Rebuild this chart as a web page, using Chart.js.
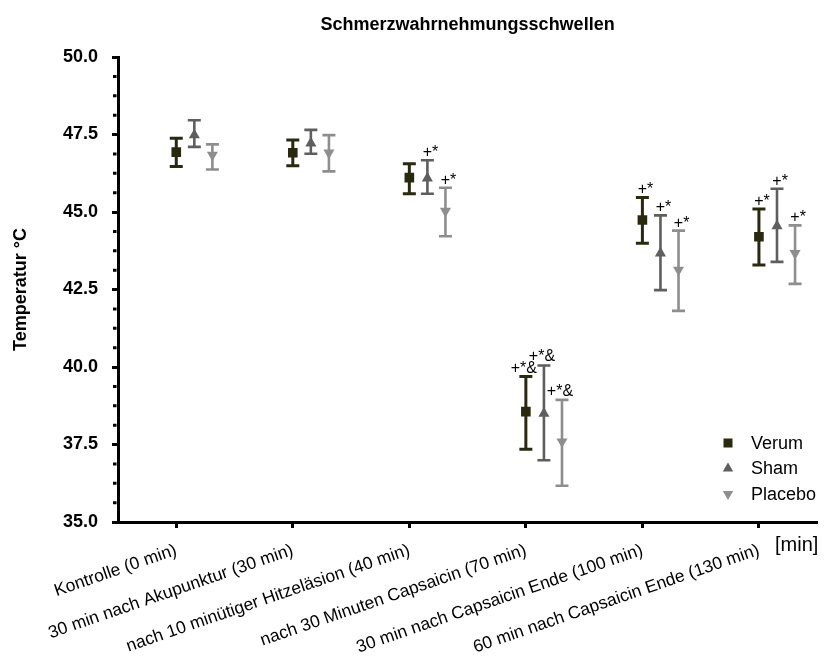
<!DOCTYPE html>
<html>
<head>
<meta charset="utf-8">
<script src="https://cdn.jsdelivr.net/npm/chart.js@4.4.0/dist/chart.umd.min.js"></script>
<style>
  html, body { margin: 0; padding: 0; background: #fff; }
  #wrap { width: 824px; height: 660px; }
</style>
</head>
<body>
<div id="wrap"><canvas id="chart"></canvas></div>
<script>
// --- data ---
const categories = [
  'Kontrolle (0 min)',
  '30 min nach Akupunktur (30 min)',
  'nach 10 minütiger Hitzeläsion (40 min)',
  'nach 30 Minuten Capsaicin (70 min)',
  '30 min nach Capsaicin Ende (100 min)',
  '60 min nach Capsaicin Ende (130 min)'
];
const seriesNames = ['Verum', 'Sham', 'Placebo'];

const verumMean = [46.93, 46.91, 46.11, 38.56, 44.74, 44.20];
const verumLow  = [46.47, 46.49, 45.59, 37.35, 43.99, 43.29];
const verumHigh = [47.38, 47.32, 46.56, 39.69, 45.47, 45.10];

const shamMean = [47.48, 47.22, 46.09, 38.50, 43.67, 44.55];
const shamLow  = [47.10, 46.88, 45.59, 36.99, 42.48, 43.39];
const shamHigh = [47.96, 47.65, 46.67, 40.05, 44.89, 45.75];

const placeboMean = [46.84, 46.91, 45.03, 37.59, 43.13, 43.67];
const placeboLow  = [46.37, 46.31, 44.22, 36.17, 41.81, 42.68];
const placeboHigh = [47.18, 47.48, 45.78, 38.94, 44.40, 44.57];

const verumSig   = ['', '', '', '+*&', '+*', '+*'];
const shamSig    = ['', '', '+*', '+*&', '+*', '+*'];
const placeboSig = ['', '', '+*', '+*&', '+*', '+*'];

const yTickValues = [35, 37.5, 40, 42.5, 45, 47.5, 50];
const yMinorStep = 0.625;
const chartTitle = 'Schmerzwahrnehmungsschwellen';
const yTitle = 'Temperatur °C';
const xUnit = '[min]';

const FONT = "'Liberation Sans', Arial, sans-serif";

// --- styles ---
const styles = [
  { color: '#29290f', pointStyle: 'rect', radius: 6.8, rotation: 0, dodge: 0, barWidth: 3 },
  { color: '#5e5e5e', pointStyle: 'triangle', radius: 6.4, rotation: 0, dodge: 0.155, barWidth: 2.6 },
  { color: '#8e8e8e', pointStyle: 'triangle', radius: 6.4, rotation: 180, dodge: 0.31, barWidth: 2.6 }
];

function makeDataset(idx, mean, low, high, sig) {
  const s = styles[idx];
  return {
    label: seriesNames[idx],
    data: mean.map((v, i) => ({ x: i + s.dodge, y: v })),
    errLow: low,
    errHigh: high,
    sig: sig,
    barWidth: s.barWidth,
    backgroundColor: s.color,
    borderColor: s.color,
    borderWidth: 0,
    pointStyle: s.pointStyle,
    pointRadius: s.radius,
    pointHoverRadius: s.radius,
    rotation: s.rotation,
    showLine: false
  };
}

const errorBars = {
  id: 'errorBars',
  beforeDatasetsDraw(chart) {
    const ctx = chart.ctx;
    const y = chart.scales.y;
    chart.data.datasets.forEach((ds, di) => {
      const meta = chart.getDatasetMeta(di);
      ctx.save();
      ctx.strokeStyle = ds.borderColor;
      ctx.lineWidth = ds.barWidth;
      meta.data.forEach((pt, j) => {
        const lo = y.getPixelForValue(ds.errLow[j]);
        const hi = y.getPixelForValue(ds.errHigh[j]);
        ctx.beginPath();
        ctx.moveTo(pt.x, lo); ctx.lineTo(pt.x, hi);
        ctx.moveTo(pt.x - 6.5, lo); ctx.lineTo(pt.x + 6.5, lo);
        ctx.moveTo(pt.x - 6.5, hi); ctx.lineTo(pt.x + 6.5, hi);
        ctx.stroke();
      });
      ctx.restore();
    });
  },
  afterDatasetsDraw(chart) {
    const ctx = chart.ctx;
    const y = chart.scales.y;
    ctx.save();
    ctx.fillStyle = '#000';
    ctx.font = '16px ' + FONT;
    ctx.textBaseline = 'alphabetic';
    chart.data.datasets.forEach((ds, di) => {
      const meta = chart.getDatasetMeta(di);
      meta.data.forEach((pt, j) => {
        const txt = ds.sig[j];
        if (!txt) return;
        const hi = y.getPixelForValue(ds.errHigh[j]);
        if (txt.length > 2) {
          ctx.textAlign = 'center';
          ctx.fillText(txt, pt.x - 2, hi - 4);
        } else {
          ctx.textAlign = 'left';
          ctx.fillText(txt, pt.x - 4.7, hi - 3);
        }
      });
    });
    ctx.restore();
  }
};

const extras = {
  id: 'extras',
  afterDraw(chart) {
    const ctx = chart.ctx;
    const y = chart.scales.y;
    const area = chart.chartArea;
    ctx.save();
    // minor ticks on the y axis
    ctx.strokeStyle = '#000';
    ctx.lineWidth = 3;
    ctx.beginPath();
    for (let v = y.min; v <= y.max + 1e-9; v += yMinorStep) {
      if (yTickValues.some(t => Math.abs(t - v) < 1e-6)) continue;
      const py = y.getPixelForValue(v);
      ctx.moveTo(area.left - 1.5, py);
      ctx.lineTo(area.left - 5, py);
    }
    ctx.stroke();

    // unit label at the end of the x axis
    ctx.fillStyle = '#000';
    ctx.font = '20px ' + FONT;
    ctx.textAlign = 'left';
    ctx.textBaseline = 'middle';
    ctx.fillText(xUnit, 775, area.bottom + 23);

    // legend
    ctx.font = '18px ' + FONT;
    chart.data.datasets.forEach((ds, i) => {
      const ly = 443 + i * 25.5;
      const lx = 728;
      ctx.fillStyle = ds.backgroundColor;
      ctx.beginPath();
      if (ds.pointStyle === 'rect') {
        ctx.rect(lx - 4.5, ly - 4.5, 9, 9);
      } else {
        const r = 6;
        const dir = ds.rotation === 180 ? -1 : 1;
        ctx.moveTo(lx, ly - dir * r);
        ctx.lineTo(lx + r * 0.866, ly + dir * r / 2);
        ctx.lineTo(lx - r * 0.866, ly + dir * r / 2);
        ctx.closePath();
      }
      ctx.fill();
      ctx.fillStyle = '#000';
      ctx.fillText(ds.label, 751, ly + 1);
    });
    ctx.restore();
  }
};

new Chart(document.getElementById('chart'), {
  type: 'scatter',
  data: {
    datasets: [
      makeDataset(0, verumMean, verumLow, verumHigh, verumSig),
      makeDataset(1, shamMean, shamLow, shamHigh, shamSig),
      makeDataset(2, placeboMean, placeboLow, placeboHigh, placeboSig)
    ]
  },
  options: {
    responsive: true,
    maintainAspectRatio: false,
    animation: false,
    layout: { padding: { left: 0, right: 4, top: 0, bottom: 0 } },
    plugins: {
      legend: { display: false },
      tooltip: { enabled: false },
      title: {
        display: true,
        text: chartTitle,
        fullSize: false,
        color: '#000',
        font: { family: FONT, size: 18, weight: 'bold', lineHeight: 1.2 },
        padding: { top: 14, bottom: 21.4 }
      }
    },
    scales: {
      x: {
        type: 'linear',
        min: -0.5,
        max: 5.5,
        afterBuildTicks(scale) {
          scale.ticks = categories.map((c, i) => ({ value: i }));
        },
        afterFit(scale) { scale.height = 138; },
        ticks: {
          autoSkip: false,
          minRotation: 19,
          maxRotation: 19,
          padding: 12,
          color: '#000',
          font: { family: FONT, size: 17.5 },
          callback: (v) => categories[Math.round(v)]
        },
        grid: {
          drawOnChartArea: false,
          tickLength: 6,
          tickWidth: 3,
          tickColor: '#000'
        },
        border: { display: true, color: '#000', width: 3 }
      },
      y: {
        min: 35,
        max: 50,
        afterBuildTicks(scale) {
          scale.ticks = yTickValues.map(v => ({ value: v }));
        },
        afterFit(scale) { scale.width = 118; },
        ticks: {
          padding: 14,
          color: '#000',
          font: { family: FONT, size: 18, weight: 'bold' },
          callback: (v) => v.toFixed(1)
        },
        grid: {
          drawOnChartArea: false,
          tickLength: 6,
          tickWidth: 3,
          tickColor: '#000'
        },
        border: { display: true, color: '#000', width: 3 },
        title: {
          display: true,
          text: yTitle,
          color: '#000',
          font: { family: FONT, size: 18, weight: 'bold', lineHeight: 1.2 },
          padding: { top: 10, bottom: 0 }
        }
      }
    }
  },
  plugins: [errorBars, extras]
});
</script>
</body>
</html>
